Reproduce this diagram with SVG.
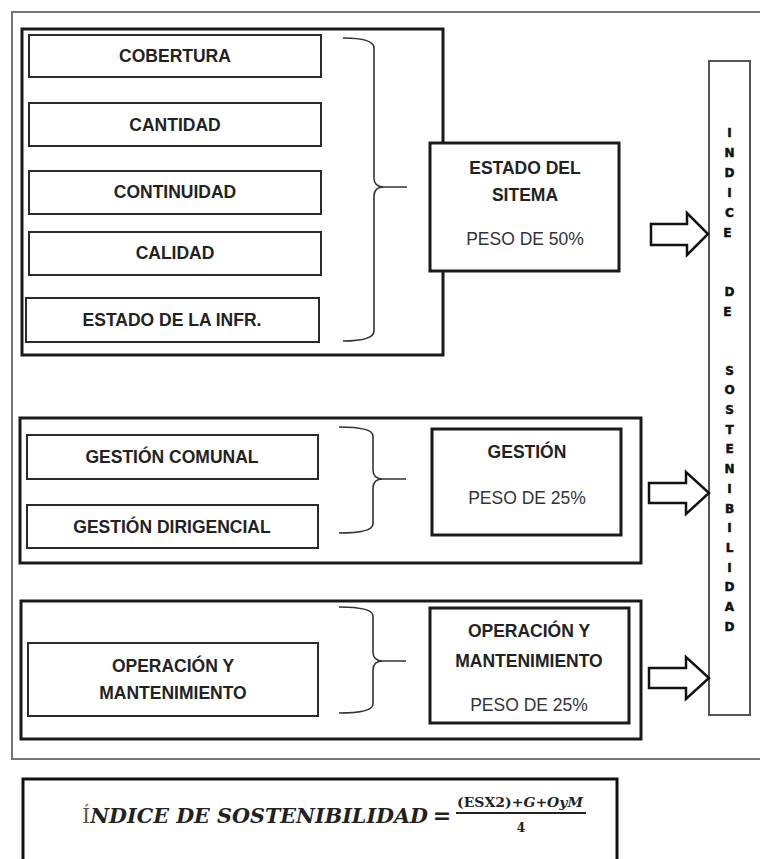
<svg xmlns="http://www.w3.org/2000/svg" width="760" height="859" viewBox="0 0 760 859">
<style>
.grp{fill:none;stroke:#1a1a1a;stroke-width:3}
.sub{fill:#fff;stroke:#2a2a2a;stroke-width:2}
.ctr{fill:#fff;stroke:#1a1a1a;stroke-width:3}
.lb{font-family:"Liberation Sans",Arial,sans-serif;font-size:17.5px;font-weight:bold;fill:#222;text-anchor:middle}
.pw{font-family:"Liberation Sans",Arial,sans-serif;font-size:17.5px;fill:#333;text-anchor:middle}
.brace{fill:none;stroke:#333;stroke-width:1.6}
.arr{fill:#fff;stroke:#111;stroke-width:2.5;stroke-linejoin:miter}
.vl{font-family:"DejaVu Sans",sans-serif;font-size:12px;font-weight:bold;fill:#111;stroke:#111;stroke-width:0.5;text-anchor:middle}
.fm{font-family:"DejaVu Serif","Liberation Serif",serif;font-weight:bold;fill:#222}
</style>
<rect width="760" height="859" fill="#fff"/>
<path d="M760,12 H12 V759 H760" fill="none" stroke="#777" stroke-width="2"/>

<g id="grupo-estado">
<rect class="grp" x="22" y="29" width="421" height="326"/>
<g id="cobertura"><rect class="sub" x="29" y="35" width="292" height="42"/><text class="lb" x="175" y="62">COBERTURA</text></g>
<g id="cantidad"><rect class="sub" x="29" y="103" width="292" height="43"/><text class="lb" x="175" y="131">CANTIDAD</text></g>
<g id="continuidad"><rect class="sub" x="29" y="171" width="292" height="43"/><text class="lb" x="175" y="198">CONTINUIDAD</text></g>
<g id="calidad"><rect class="sub" x="29" y="232" width="292" height="43"/><text class="lb" x="175" y="259">CALIDAD</text></g>
<g id="estado-infr"><rect class="sub" x="26" y="298" width="293" height="44"/><text class="lb" x="172" y="326">ESTADO DE LA INFR.</text></g>
<g id="estado-sistema"><rect class="ctr" x="430" y="143" width="189" height="128"/>
<text class="lb" x="525" y="174">ESTADO DEL</text><text class="lb" x="525" y="201">SITEMA</text><text class="pw" x="525" y="245">PESO DE 50%</text></g>
</g>

<g id="grupo-gestion">
<rect class="grp" x="20" y="418" width="621" height="145"/>
<g id="gestion-comunal"><rect class="sub" x="27" y="435" width="291" height="44"/><text class="lb" x="172" y="463">GESTIÓN COMUNAL</text></g>
<g id="gestion-dirigencial"><rect class="sub" x="27" y="505" width="291" height="43"/><text class="lb" x="172" y="533">GESTIÓN DIRIGENCIAL</text></g>
<g id="gestion"><rect class="ctr" x="432" y="429" width="189" height="106"/>
<text class="lb" x="527" y="458">GESTIÓN</text><text class="pw" x="527" y="504">PESO DE 25%</text></g>
</g>

<g id="grupo-oym">
<rect class="grp" x="21" y="601" width="620" height="138"/>
<g id="oym-item"><rect class="sub" x="28" y="643" width="290" height="73"/>
<text class="lb" x="173" y="672">OPERACIÓN Y</text><text class="lb" x="173" y="699">MANTENIMIENTO</text></g>
<g id="oym"><rect class="ctr" x="430" y="608" width="199" height="115"/>
<text class="lb" x="529" y="637">OPERACIÓN Y</text><text class="lb" x="529" y="667">MANTENIMIENTO</text><text class="pw" x="529" y="711">PESO DE 25%</text></g>
</g>

<g id="indice">
<rect x="709" y="61" width="41" height="654" fill="#fff" stroke="#555" stroke-width="2"/>
<text class="vl" x="729.5">
<tspan x="729.5" y="137">I</tspan><tspan x="729.5" y="157">N</tspan><tspan x="729.5" y="177">D</tspan><tspan x="729.5" y="197">I</tspan><tspan x="729.5" y="217">C</tspan><tspan x="729.5" y="237">E</tspan>
<tspan x="729.5" y="296">D</tspan><tspan x="729.5" y="316">E</tspan>
<tspan x="729.5" y="375">S</tspan><tspan x="729.5" y="394">O</tspan><tspan x="729.5" y="414">S</tspan><tspan x="729.5" y="434">T</tspan><tspan x="729.5" y="453">E</tspan><tspan x="729.5" y="473">N</tspan><tspan x="729.5" y="493">I</tspan><tspan x="729.5" y="513">B</tspan><tspan x="729.5" y="532">I</tspan><tspan x="729.5" y="552">L</tspan><tspan x="729.5" y="572">I</tspan><tspan x="729.5" y="591">D</tspan><tspan x="729.5" y="611">A</tspan><tspan x="729.5" y="631">D</tspan>
</text>
</g>

<g id="connectors">
<path class="brace" d="M343,38 Q374,38 374,48 V178 Q374,187 384,187 H407 M384,187 Q374,187 374,196 V331 Q374,341 343,341"/>
<path class="brace" d="M339,427 Q373,427 373,436 V470 Q373,479 383,479 H406 M383,479 Q373,479 373,488 V524 Q373,533 339,533"/>
<path class="brace" d="M339,607 Q373,607 373,616 V652 Q373,661 383,661 H406 M383,661 Q373,661 373,670 V704 Q373,713 339,713"/>
<polygon class="arr" points="651,224 687,224 687,213 708,234 687,255 687,245 651,245"/>
<polygon class="arr" points="649,483 686,483 686,472 709,493 686,514 686,503 649,503"/>
<polygon class="arr" points="649,668 686,668 686,657 709,678 686,699 686,688 649,688"/>
</g>

<g id="formula">
<rect x="23" y="779" width="594" height="100" fill="#fff" stroke="#111" stroke-width="3"/>
<text class="fm" x="82" y="823" font-size="20" font-style="italic" textLength="346" lengthAdjust="spacingAndGlyphs"><tspan font-style="normal" font-weight="normal" fill="#555">Í</tspan>NDICE DE SOSTENIBILIDAD</text>
<text class="fm" x="442" y="823" font-size="22" text-anchor="middle" font-weight="normal">=</text>
<text class="fm" x="457" y="807" font-size="12" textLength="126" lengthAdjust="spacingAndGlyphs">(ESX2)<tspan font-style="italic">+G+OyM</tspan></text>
<line x1="456" y1="813" x2="586" y2="813" stroke="#222" stroke-width="2"/>
<text class="fm" x="521" y="832" font-size="12" text-anchor="middle">4</text>
</g>
</svg>
